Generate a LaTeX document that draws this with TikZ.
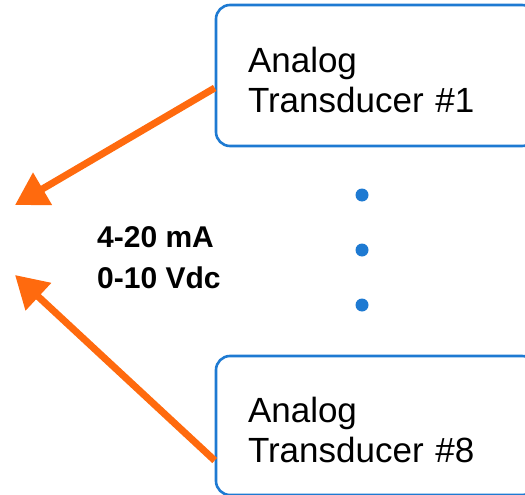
\documentclass[tikz,border=0pt]{standalone}
\usepackage{fontspec}
\setmainfont{Liberation Sans}
\usetikzlibrary{arrows.meta}
\definecolor{sigorange}{HTML}{FF6A0E}
\definecolor{boxblue}{HTML}{1E7AD2}
\begin{document}
\begin{tikzpicture}[x=1pt,y=-1pt, line join=round,
	tbox/.style={draw=boxblue, line width=2.6pt, rounded corners=14pt, fill=white,
		minimum width=320pt, align=left, text width=256pt, inner xsep=32pt,
		font=\fontsize{35}{40}\selectfont, text height=34pt},
	sig/.style={draw=sigorange, line width=7pt, -{Triangle[length=32pt,width=36pt]}},
	dot/.style={fill=boxblue, draw=none}]
	\clip (0,0) rectangle (525,495);
	\useasboundingbox (0,0) rectangle (525,495);
	%Hai hop cam bien
	\node[tbox, minimum height=141pt] (T1) at (376,75.5) {Analog\\Transducer \#1};
	\node[tbox, minimum height=139pt] (T8) at (376,425.5) {Analog\\Transducer \#8};
	\path (15,205) coordinate (P1) (15,275) coordinate (P8);
	\draw[sig] ([yshift=-12.5pt]T1.west) -- (P1);
	\draw[sig] ([yshift=-35pt]T8.west) -- (P8);
	\node[anchor=base west, align=left, inner sep=0pt, font=\fontsize{30}{41}\bfseries\selectfont] (lbl) at (97,288) {4-20 mA\\0-10 Vdc};
	\foreach \y in {195,250,305}
	\fill[dot] (362,\y) circle (6.5pt);
\end{tikzpicture}
\end{document}
